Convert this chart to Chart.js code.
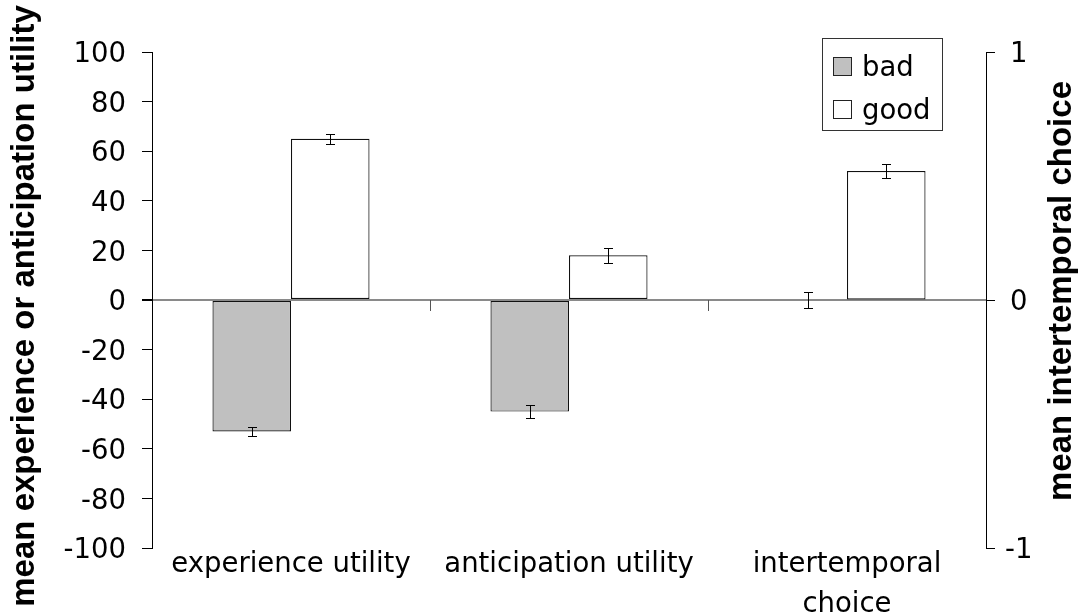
<!DOCTYPE html>
<html>
<head>
<meta charset="utf-8">
<script src="https://cdn.jsdelivr.net/npm/chart.js@4/dist/chart.umd.min.js"></script>
<style>
  html, body { margin: 0; padding: 0; background: #ffffff; }
  canvas { display: block; }
</style>
</head>
<body>
<canvas id="c" width="1081" height="615"></canvas>
<script>
// ---- data ----
const categories = ['experience utility', 'anticipation utility', ['intertemporal', 'choice']];
const seriesNames = ['bad', 'good'];
// utility values (left axis)
const badUtility = [-53, -45, null];
const goodUtility = [65, 18, null];
const badUtilityErr = [1.8, 2.7, null];
const goodUtilityErr = [1.9, 3.0, null];
// intertemporal choice values (right axis)
const badChoice = [null, null, 0];
const goodChoice = [null, null, 0.52];
const badChoiceErr = [null, null, 0.033];
const goodChoiceErr = [null, null, 0.027];
// axes
const leftMin = -100, leftMax = 100, leftStep = 20;
const rightMin = -1, rightMax = 1, rightStep = 1;
const leftTitle = 'mean experience or anticipation utility';
const rightTitle = 'mean intertemporal choice';

const badColor = '#c0c0c0';
const goodColor = '#ffffff';
const TEXT_FAMILY = '"DejaVu Sans", sans-serif';
const TEXT_SIZE = 27.5;
const TITLE_FONT = 'bold 33px "Liberation Sans", Arial, sans-serif';

function barDs(label, data, errors, color, axis) {
  return {
    label, data, errors, yAxisID: axis,
    backgroundColor: color, borderColor: '#111', borderWidth: 1.2,
    borderSkipped: false, skipNull: true,
    categoryPercentage: 0.565, barPercentage: 1
  };
}

const errorBars = {
  id: 'errorBars',
  afterDatasetsDraw(chart) {
    const ctx = chart.ctx;
    ctx.save();
    ctx.strokeStyle = '#000';
    ctx.lineWidth = 1;
    chart.data.datasets.forEach((ds, di) => {
      const meta = chart.getDatasetMeta(di);
      const ys = chart.scales[ds.yAxisID];
      ds.data.forEach((v, i) => {
        const e = ds.errors[i];
        if (v == null || e == null) return;
        const x = Math.round(meta.data[i].x) + 0.5;
        const yA = Math.round(ys.getPixelForValue(v + e)) + 0.5;
        const yB = Math.round(ys.getPixelForValue(v - e)) + 0.5;
        const cap = 4.5;
        ctx.beginPath();
        ctx.moveTo(x, yA); ctx.lineTo(x, yB);
        ctx.moveTo(x - cap, yA); ctx.lineTo(x + cap, yA);
        ctx.moveTo(x - cap, yB); ctx.lineTo(x + cap, yB);
        ctx.stroke();
      });
    });
    ctx.restore();
  }
};

const extras = {
  id: 'extras',
  afterDraw(chart) {
    const ctx = chart.ctx;
    const xs = chart.scales.x, ys = chart.scales.y;
    const area = chart.chartArea;
    ctx.save();
    // category boundary ticks hanging from the zero line
    const y0 = ys.getPixelForValue(0);
    ctx.strokeStyle = '#555';
    ctx.lineWidth = 1;
    for (let i = 1; i < categories.length; i++) {
      const bx = Math.round((xs.getPixelForValue(i - 1) + xs.getPixelForValue(i)) / 2) + 0.5;
      ctx.beginPath();
      ctx.moveTo(bx, y0);
      ctx.lineTo(bx, y0 + 11);
      ctx.stroke();
    }
    // axis titles (both read bottom-to-top)
    ctx.fillStyle = '#000';
    ctx.font = TITLE_FONT;
    ctx.textAlign = 'center';
    ctx.textBaseline = 'alphabetic';
    ctx.save();
    ctx.translate(34, (area.top + area.bottom) / 2 + 6);
    ctx.rotate(-Math.PI / 2);
    ctx.fillText(leftTitle, 0, 0);
    ctx.restore();
    ctx.save();
    ctx.translate(1071, (area.top + area.bottom) / 2 - 9);
    ctx.rotate(-Math.PI / 2);
    ctx.fillText(rightTitle, 0, 0);
    ctx.restore();
    // legend
    const bx0 = area.right - 164, by0 = area.top - 14, bw = 120, bh = 92;
    ctx.fillStyle = '#fff';
    ctx.fillRect(bx0, by0, bw, bh);
    ctx.strokeStyle = '#333';
    ctx.strokeRect(bx0 + 0.5, by0 + 0.5, bw, bh);
    ctx.font = TEXT_SIZE + 'px ' + TEXT_FAMILY;
    ctx.textAlign = 'left';
    ctx.textBaseline = 'alphabetic';
    [0, 1].forEach((k) => {
      const ds = chart.data.datasets[k];
      const sy = by0 + 19 + k * 43;
      ctx.fillStyle = ds.backgroundColor;
      ctx.fillRect(bx0 + 11, sy, 19, 19);
      ctx.strokeStyle = '#222';
      ctx.strokeRect(bx0 + 11.5, sy + 0.5, 18, 18);
      ctx.fillStyle = '#000';
      ctx.fillText(ds.label, bx0 + 40, sy + 19);
    });
    ctx.restore();
  }
};

new Chart(document.getElementById('c'), {
  type: 'bar',
  data: {
    labels: categories,
    datasets: [
      barDs(seriesNames[0], badUtility, badUtilityErr, badColor, 'y'),
      barDs(seriesNames[1], goodUtility, goodUtilityErr, goodColor, 'y'),
      barDs(seriesNames[0], badChoice, badChoiceErr, badColor, 'y2'),
      barDs(seriesNames[1], goodChoice, goodChoiceErr, goodColor, 'y2')
    ]
  },
  options: {
    responsive: false,
    animation: false,
    layout: { padding: { top: 52, left: 0, right: 0, bottom: 0 } },
    plugins: { legend: { display: false }, tooltip: { enabled: false } },
    scales: {
      x: {
        grid: { display: false },
        border: { display: false },
        ticks: {
          color: '#000', font: { family: TEXT_FAMILY, size: TEXT_SIZE, lineHeight: 1.455 },
          padding: -11, maxRotation: 0, autoSkip: false
        },
        afterFit(s) { s.height = 67; }
      },
      y: {
        position: 'left', min: leftMin, max: leftMax,
        grid: {
          color: (c) => (c.tick && c.tick.value === 0 ? '#8a8a8a' : 'rgba(0,0,0,0)'),
          lineWidth: (c) => (c.tick && c.tick.value === 0 ? 2 : 1),
          tickColor: '#000', tickLength: 10, drawTicks: true
        },
        border: { display: true, color: '#000', width: 1 },
        ticks: {
          stepSize: leftStep, color: '#000',
          font: { family: TEXT_FAMILY, size: TEXT_SIZE }, padding: 16, labelOffset: 3
        },
        afterFit(s) { s.width = 152; }
      },
      y2: {
        position: 'right', min: rightMin, max: rightMax,
        grid: { drawOnChartArea: false, tickColor: '#000', tickLength: 9 },
        border: { display: true, color: '#000', width: 1 },
        ticks: {
          stepSize: rightStep, color: '#000',
          font: { family: TEXT_FAMILY, size: TEXT_SIZE }, padding: 10, labelOffset: 3,
          crossAlign: 'center'
        },
        afterFit(s) { s.width = 95; }
      }
    }
  },
  plugins: [errorBars, extras]
});
</script>
</body>
</html>
